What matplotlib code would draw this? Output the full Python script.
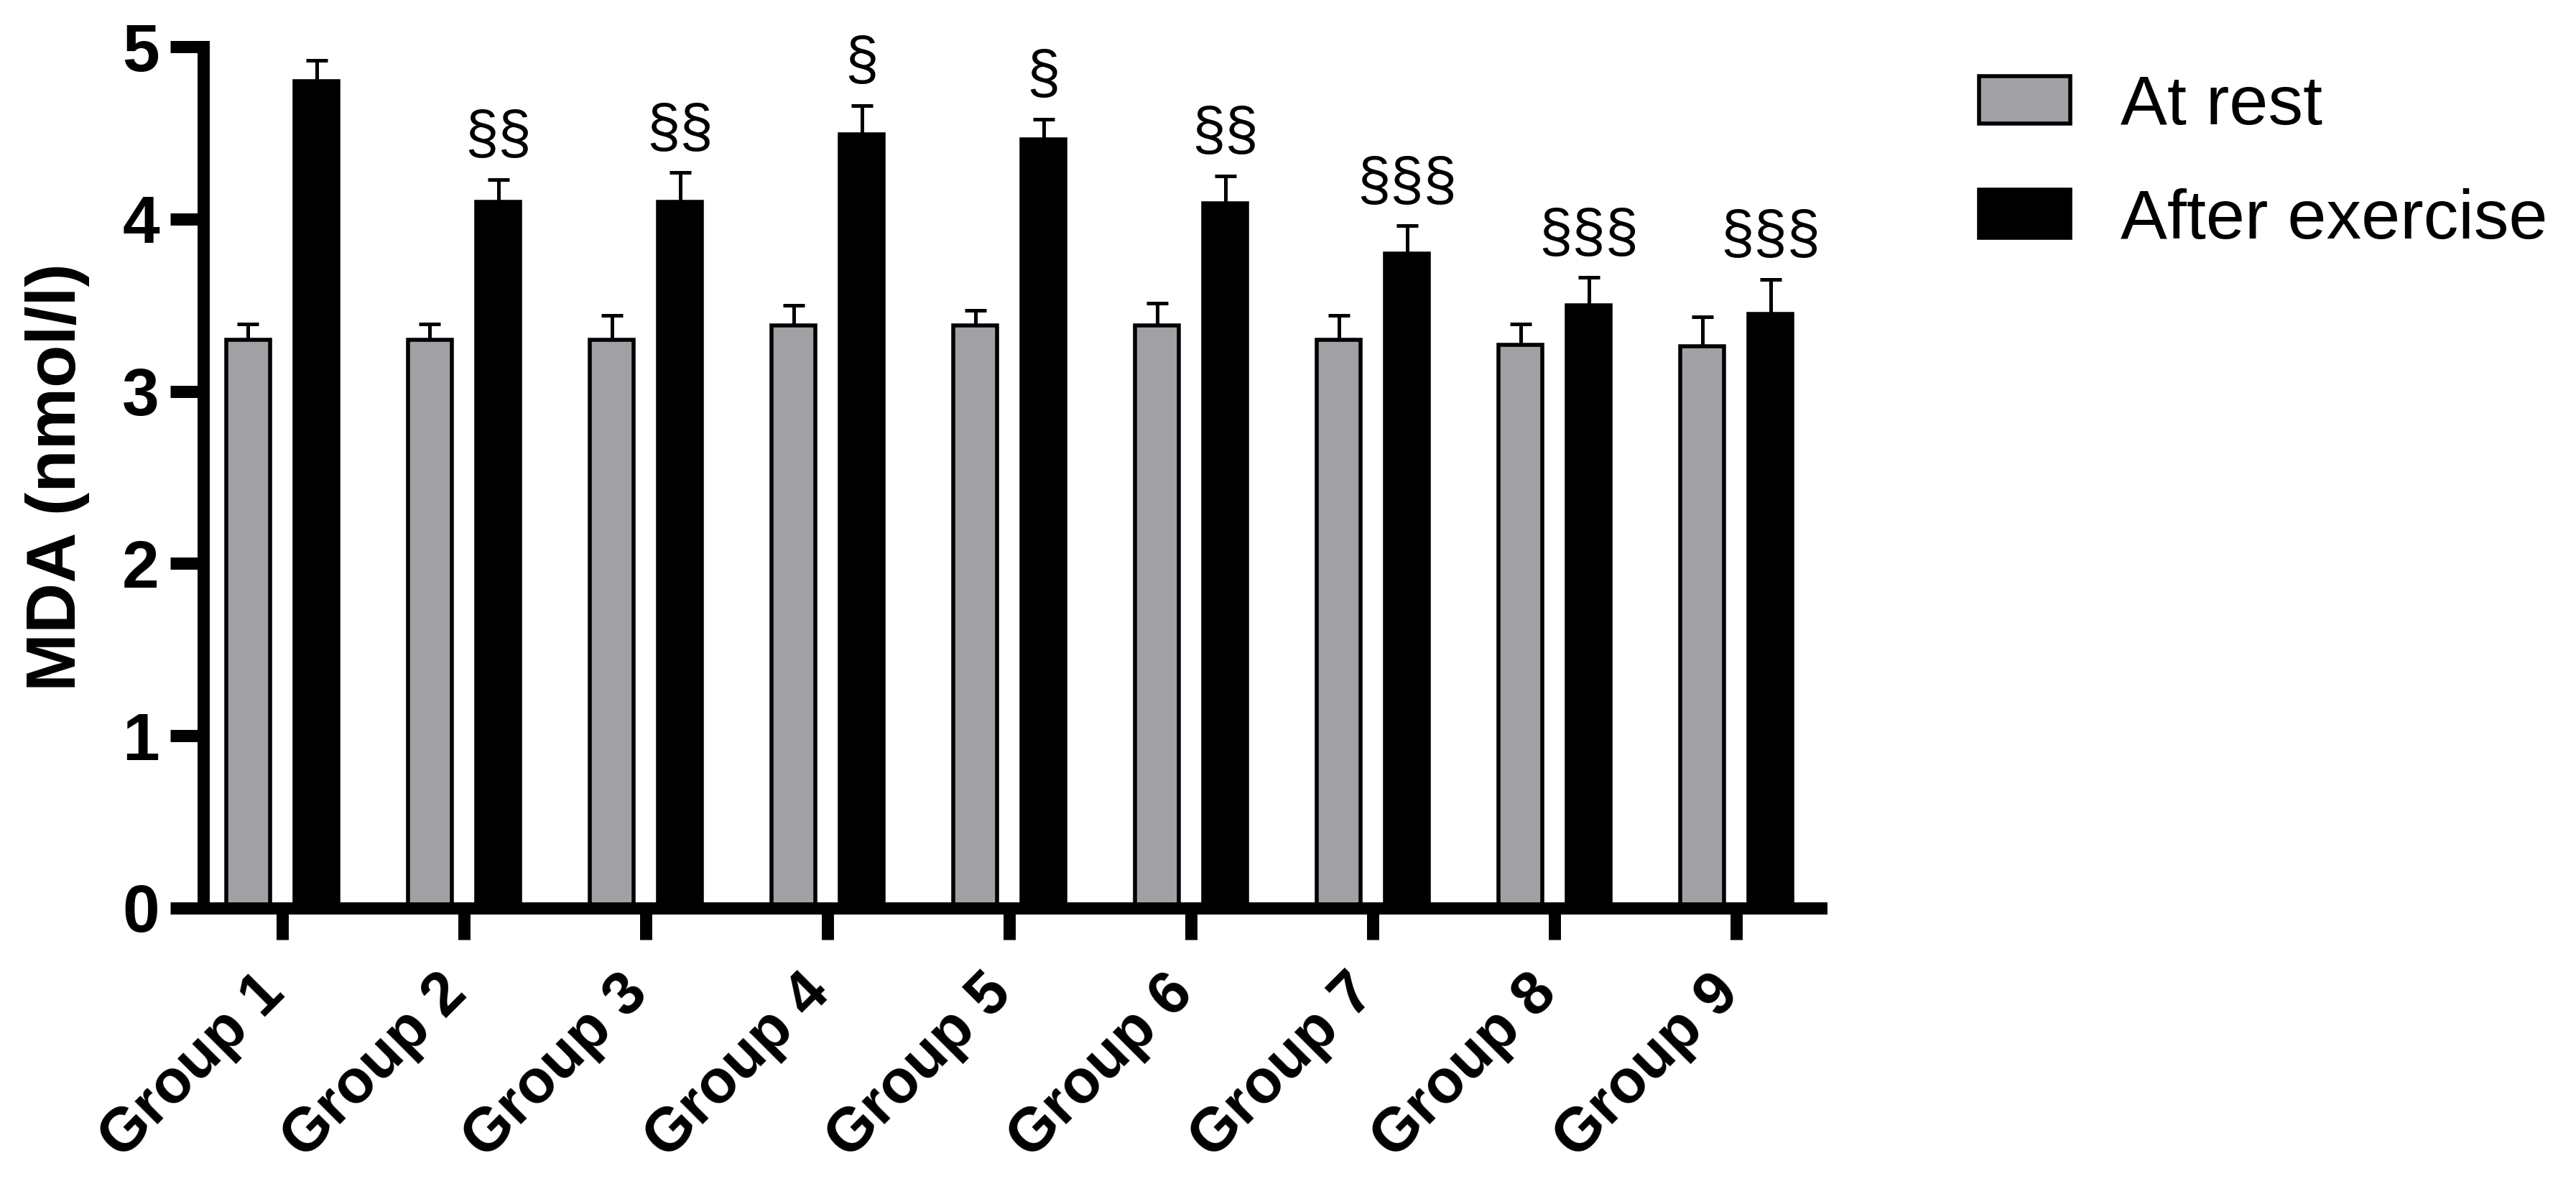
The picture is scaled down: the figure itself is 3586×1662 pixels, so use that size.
import numpy as np
import matplotlib
matplotlib.use("Agg")
import matplotlib.pyplot as plt
import matplotlib.transforms as mtransforms

plt.rcParams['font.family'] = ['Liberation Sans', 'DejaVu Sans']

groups = ["Group 1", "Group 2", "Group 3", "Group 4", "Group 5",
          "Group 6", "Group 7", "Group 8", "Group 9"]
rest = [3.30, 3.30, 3.30, 3.38, 3.38, 3.38, 3.30, 3.27, 3.26]
rest_err = [0.09, 0.09, 0.14, 0.12, 0.09, 0.13, 0.14, 0.12, 0.17]
after = [4.80, 4.10, 4.10, 4.49, 4.46, 4.09, 3.80, 3.50, 3.45]
after_err = [0.12, 0.13, 0.17, 0.17, 0.12, 0.16, 0.16, 0.16, 0.20]
marks = ["", "§§", "§§", "§", "§", "§§", "§§§", "§§§", "§§§"]

gray = '#a1a1a5'
W, H, dpi = 3586, 1662, 200
fig = plt.figure(figsize=(W / dpi, H / dpi), dpi=dpi)
ax = fig.add_axes([283 / W, 1 - 1264 / H, (2535 - 283) / W, (1264 - 65) / H])

x = np.arange(len(groups))
off = 0.188
bw = 0.243
ax.bar(x - off, rest, bw, color=gray, edgecolor='black', linewidth=2, label='At rest')
ax.bar(x + off, after, bw, color='black', edgecolor='black', linewidth=2, label='After exercise')

ekw = dict(fmt='none', ecolor='black', elinewidth=1.8, capsize=5.4, capthick=1.8, zorder=0.5)
ax.errorbar(x - off, rest, yerr=[np.zeros(len(x)), rest_err], **ekw)
ax.errorbar(x + off, after, yerr=[np.zeros(len(x)), after_err], **ekw)

for xi, yi, ei, m in zip(x + off, after, after_err, marks):
    if m:
        ax.annotate(m, (xi, yi + ei), xytext=(0, 7), textcoords='offset points',
                    ha='center', va='bottom', fontsize=30)

ax.set_xlim(-0.435, 8.466)
ax.set_ylim(0, 5)
ax.set_yticks([0, 1, 2, 3, 4, 5])
ax.set_xticks(x)
ax.set_xticklabels(groups, rotation=45, ha='right', fontsize=30.5, fontweight='bold')
for lab in ax.get_yticklabels():
    lab.set_fontweight('bold')
ax.tick_params(axis='y', labelsize=33.5, length=16.5, width=6.1, pad=5.5)
ax.tick_params(axis='x', length=16, width=6.1, pad=12)

shift = mtransforms.ScaledTranslation(19 / dpi, 0, fig.dpi_scale_trans)
for lab in ax.get_xticklabels():
    lab.set_transform(lab.get_transform() + shift)

for s in ['top', 'right']:
    ax.spines[s].set_visible(False)
for s in ['left', 'bottom']:
    ax.spines[s].set_linewidth(6.1)
    ax.spines[s].set_capstyle('projecting')

ax.set_ylabel('MDA (nmol/l)', fontsize=35, fontweight='bold')
ax.yaxis.set_label_coords(-0.070, 0.5)

fig.legend(loc='upper left', bbox_to_anchor=(2755 / W, 1 - 103 / H), frameon=False,
           fontsize=35, handlelength=1.31, handleheight=0.67, handletextpad=0.72,
           labelspacing=0.705, borderpad=0, borderaxespad=0)

fig.savefig('out.png', dpi=dpi)
